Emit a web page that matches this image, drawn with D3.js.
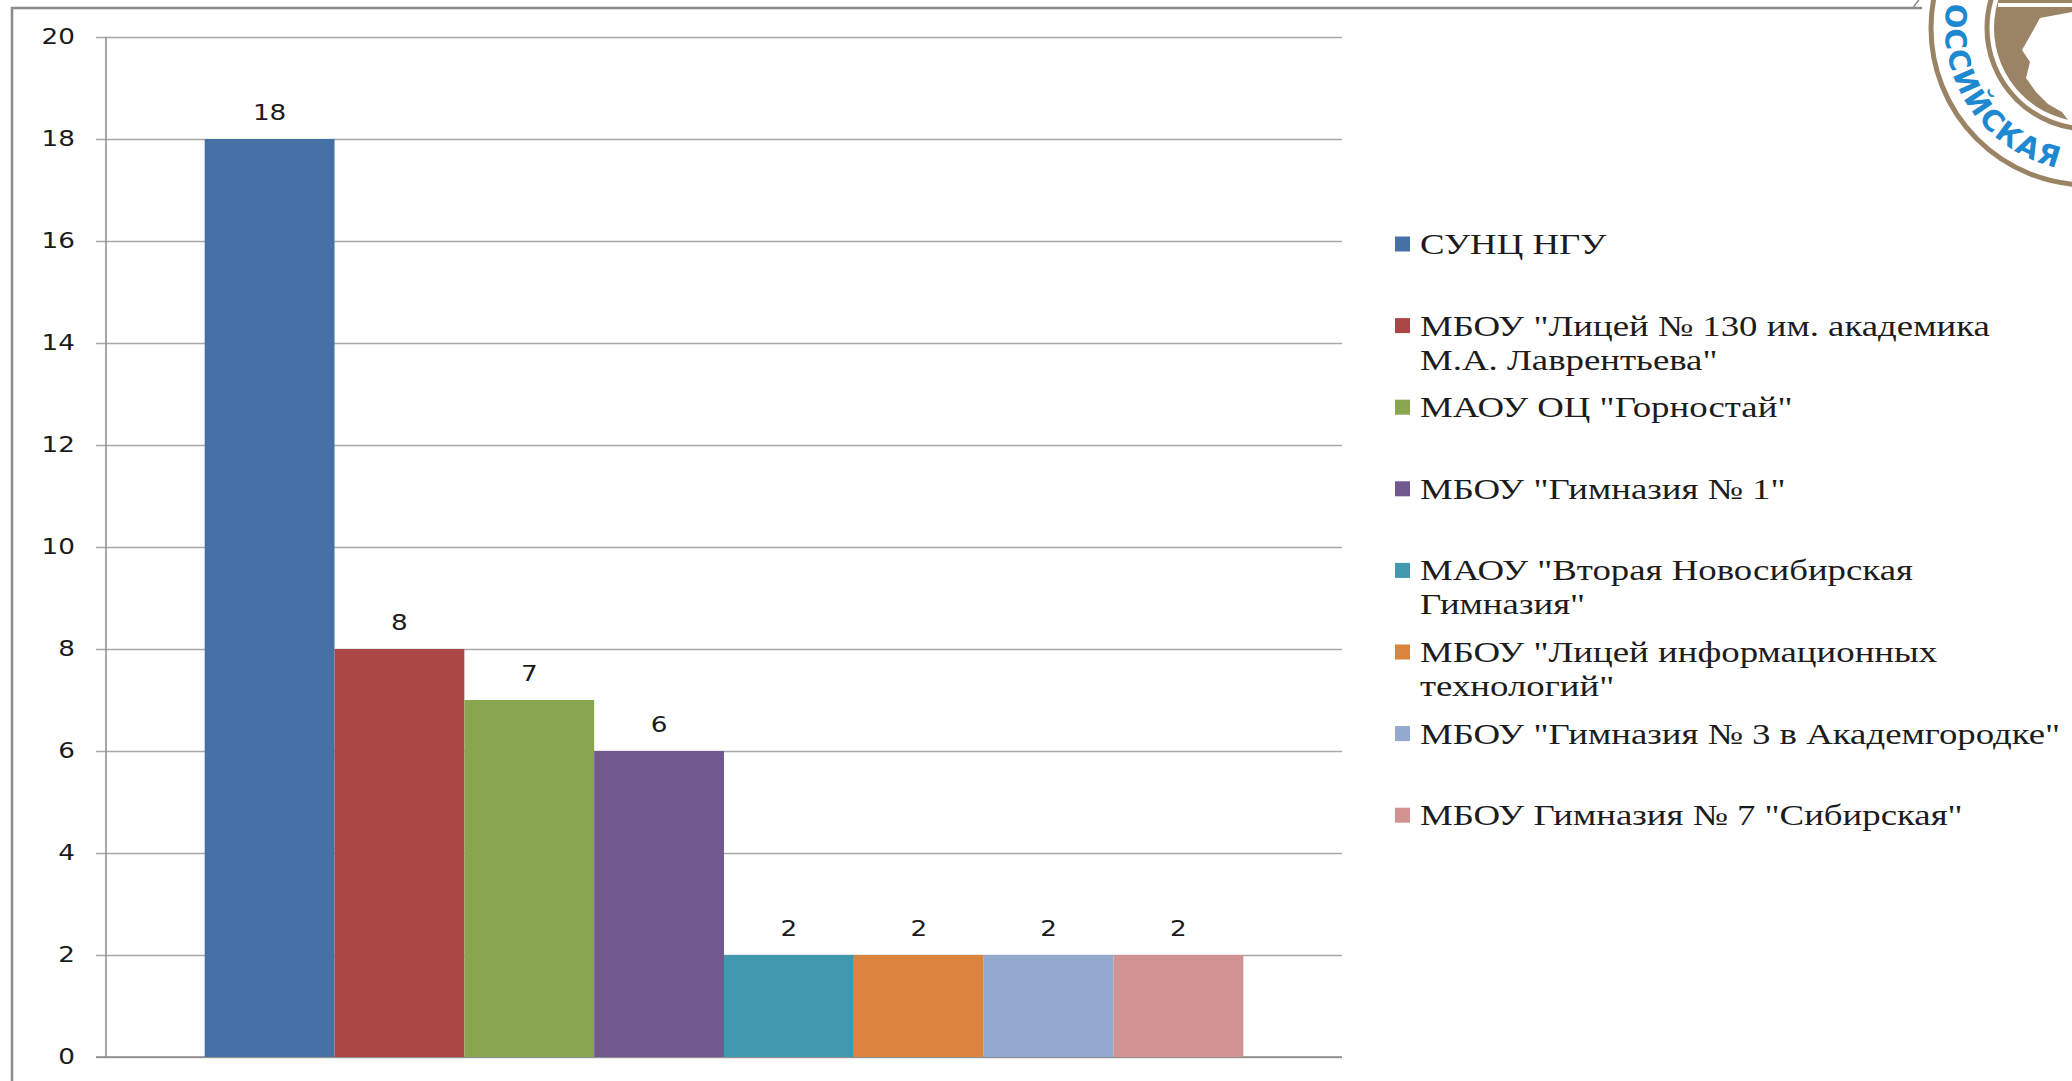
<!DOCTYPE html>
<html>
<head>
<meta charset="utf-8">
<script src="https://cdn.jsdelivr.net/npm/d3@7/dist/d3.min.js"></script>
<style>
  html, body { margin: 0; padding: 0; background: #fff; overflow: hidden; }
  svg { display: block; }
  .leg { font-family: "Liberation Serif", "Times New Roman", serif; }
  .num { font-family: "DejaVu Sans", sans-serif; }
</style>
</head>
<body>
<svg id="chart" width="2072" height="1081"></svg>
<script>
// ---- data ----
const categories = [""];
const seriesNames = [
  "СУНЦ НГУ",
  "МБОУ \"Лицей № 130 им. академика\nМ.А. Лаврентьева\"",
  "МАОУ ОЦ \"Горностай\"",
  "МБОУ \"Гимназия № 1\"",
  "МАОУ \"Вторая Новосибирская\nГимназия\"",
  "МБОУ \"Лицей информационных\nтехнологий\"",
  "МБОУ \"Гимназия № 3 в Академгородке\"",
  "МБОУ Гимназия № 7 \"Сибирская\""
];
const values = [18, 8, 7, 6, 2, 2, 2, 2];
const colors = ["#4571a6", "#aa4744", "#89a54e", "#71588f", "#4198af", "#db843d", "#93a9cf", "#d19392"];
const yTicks = [0, 2, 4, 6, 8, 10, 12, 14, 16, 18, 20];

// ---- layout ----
const W = 2072, H = 1081;
const plot = { left: 106, right: 1342, top: 37, bottom: 1057 };
const numStretch = 1.25;
const svg = d3.select("#chart");

svg.append("path")
  .attr("d", `M12,${H + 5} V8 H1922`)
  .attr("fill", "none").attr("stroke", "#8a8a8a").attr("stroke-width", 2.5);

const y = d3.scaleLinear().domain([0, 20]).range([plot.bottom, plot.top]);
const x0 = d3.scaleBand().domain(categories).range([plot.left, plot.right]).paddingOuter(0.095).paddingInner(0);
const x1 = d3.scaleBand().domain(seriesNames).range([0, x0.bandwidth()]).padding(0);

const yAxis = d3.axisLeft(y).tickValues(yTicks).tickSize(-(plot.right - plot.left + 10)).tickPadding(21).tickFormat(d3.format("d"));
const gy = svg.append("g").attr("transform", `translate(${plot.left - 10},0)`).call(yAxis);
gy.select(".domain").remove();
gy.selectAll(".tick line").attr("stroke", "#a8a8a8").attr("stroke-width", 1.5);
gy.selectAll(".tick text").attr("class", "num").attr("font-family", null).attr("font-size", 21).attr("fill", "#1a1a1a")
  .attr("x", -21 / numStretch).attr("transform", `scale(${numStretch},1)`);

svg.append("line").attr("x1", plot.left).attr("x2", plot.left).attr("y1", plot.top).attr("y2", plot.bottom)
  .attr("stroke", "#8a8a8a").attr("stroke-width", 1.5);
svg.append("line").attr("x1", plot.left - 10).attr("x2", plot.right).attr("y1", plot.bottom).attr("y2", plot.bottom)
  .attr("stroke", "#8a8a8a").attr("stroke-width", 1.5);

const data = seriesNames.map((name, i) => ({ name, value: values[i], color: colors[i], cat: categories[0] }));
const bars = svg.append("g");
bars.selectAll("rect").data(data).enter().append("rect")
  .attr("x", d => x0(d.cat) + x1(d.name))
  .attr("y", d => y(d.value))
  .attr("width", x1.bandwidth())
  .attr("height", d => y(0) - y(d.value))
  .attr("fill", d => d.color);

bars.selectAll("g.lbl").data(data).enter().append("g").attr("class", "lbl")
  .attr("transform", d => `translate(${x0(d.cat) + x1(d.name) + x1.bandwidth() / 2},${y(d.value) - 19}) scale(${numStretch},1)`)
  .append("text")
  .attr("class", "num")
  .attr("text-anchor", "middle")
  .attr("font-size", 21).attr("fill", "#1a1a1a")
  .text(d => d.value);

// legend
const legend = svg.append("g");
const legTop = 244, legStep = 81.6, lineH = 34;
data.forEach((d, i) => {
  const cy = legTop + i * legStep;
  legend.append("rect").attr("x", 1395).attr("y", cy - 7.5).attr("width", 15).attr("height", 15).attr("fill", d.color);
  const g = legend.append("g").attr("transform", `translate(1420,${cy + 10}) scale(1.27,1)`);
  const t = g.append("text").attr("class", "leg").attr("font-size", 29).attr("fill", "#1c1c1c");
  d.name.split("\n").forEach((line, k) => {
    t.append("tspan").attr("x", 0).attr("y", k * lineH).text(line);
  });
});

// emblem
const cx = 2088, cyL = 28;
const logo = svg.append("g");
const brown = "#9b8365";
logo.append("circle").attr("cx", cx).attr("cy", cyL).attr("r", 166).attr("fill", "#fff");
logo.append("circle").attr("cx", cx).attr("cy", cyL).attr("r", 157).attr("fill", "#fff").attr("stroke", brown).attr("stroke-width", 5);
logo.append("circle").attr("cx", cx).attr("cy", cyL).attr("r", 101).attr("fill", "none").attr("stroke", brown).attr("stroke-width", 5);
logo.append("circle").attr("cx", cx).attr("cy", cyL).attr("r", 94).attr("fill", brown);
logo.append("line").attr("x1", 1998).attr("x2", 2072).attr("y1", 5).attr("y2", 5).attr("stroke", "#fff").attr("stroke-width", 4);
logo.append("path")
  .attr("d", "M2040,18 L2072,12 L2072,125 L2062,112 L2048,104 L2036,92 L2026,78 L2030,62 L2022,50 L2030,36 Z")
  .attr("fill", "#fff");
const rT = 143, a1 = 190 * Math.PI / 180, a2 = 96 * Math.PI / 180;
const p1 = [cx + rT * Math.cos(a1), cyL + rT * Math.sin(a1)];
const p2 = [cx + rT * Math.cos(a2), cyL + rT * Math.sin(a2)];
svg.append("defs").append("path").attr("id", "arcText")
  .attr("d", `M${p1[0]},${p1[1]} A${rT},${rT} 0 0 0 ${p2[0]},${p2[1]}`);
logo.append("text").attr("font-family", "DejaVu Sans, sans-serif").attr("font-weight", "bold")
  .attr("font-size", 29).attr("fill", "#1e88d0")
  .append("textPath").attr("href", "#arcText").attr("textLength", 218).attr("lengthAdjust", "spacing")
  .text("ОССИЙСКАЯ");
svg.append("path").attr("d", "M1913,8 Q1916,3 1919,0").attr("fill", "none").attr("stroke", "#8a8a8a").attr("stroke-width", 1.5);
</script>
</body>
</html>
